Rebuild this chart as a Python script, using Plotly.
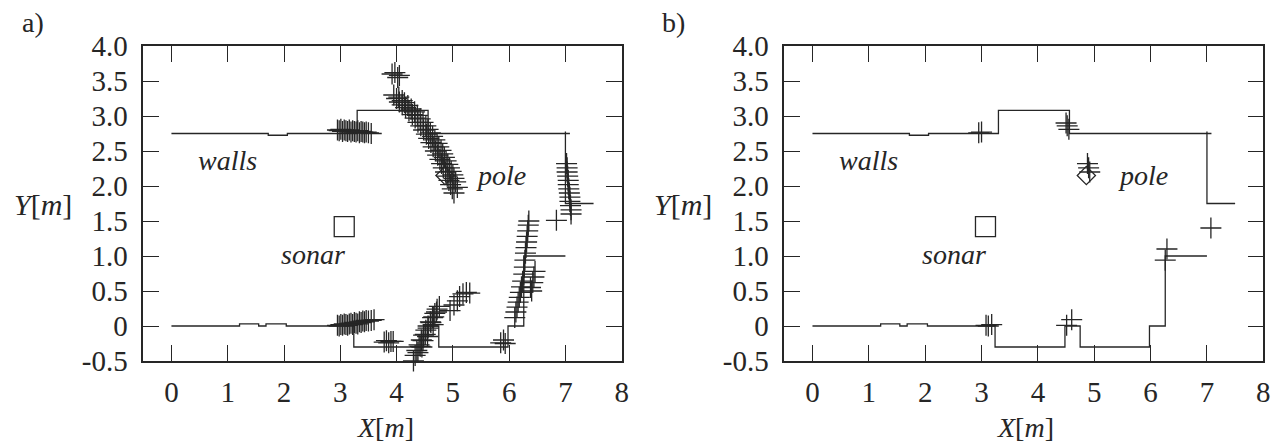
import plotly.graph_objects as go

# ---- walls (same map in both panels) ----
wall_x = [0, 1.72, 1.72, 2.06, 2.06, 3.30, 3.30, 4.56, 4.56, 7.08, None,
          7.0, 7.0, 7.5, None,
          0, 1.21, 1.21, 1.55, 1.55, 1.68, 1.68, 2.04, 2.04, 3.24, 3.24, 4.48, 4.48,
          4.75, 4.75, 5.98, 5.98, 6.26, 6.26, 7.0]
wall_y = [2.75, 2.75, 2.725, 2.725, 2.75, 2.75, 3.08, 3.08, 2.75, 2.75, None,
          2.78, 1.75, 1.75, None,
          0, 0, 0.03, 0.03, 0, 0, 0.03, 0.03, 0, 0, -0.30, -0.30, 0,
          0, -0.30, -0.30, 0, 0, 1.0, 1.0]

sonar_x = [3.07]
sonar_y = [1.42]
pole_x = [4.86]
pole_y = [2.15]

# ---- a) raw sonar measurements ----
a_x = [2.95, 2.98, 3.01, 3.04, 3.07, 3.10, 3.13, 3.16, 3.19, 3.22, 3.25, 3.28, 3.31, 3.34, 3.37, 3.40, 3.43, 3.46, 3.50, 3.55,
       2.95, 2.98, 3.01, 3.04, 3.07, 3.10, 3.13, 3.16, 3.19, 3.22, 3.25, 3.28, 3.31, 3.34, 3.37, 3.40, 3.43, 3.46, 3.50, 3.55, 3.60,
       3.78, 3.82, 3.86, 3.90, 3.94,
       3.92, 3.97, 4.02, 4.05,
       3.95, 4.00, 4.05, 4.10, 4.16, 4.22, 4.28, 4.33, 4.38, 4.43, 4.48, 4.53, 4.57, 4.61, 4.65, 4.69, 4.73, 4.77, 4.80, 4.83, 4.87, 4.90, 4.93, 4.96, 4.99, 5.02,
       4.10, 4.20, 4.32, 4.42, 4.52, 4.60, 4.68, 4.75, 4.82, 4.88, 4.94, 5.00, 5.05, 5.08,
       4.04, 4.14, 4.26, 4.37, 4.47, 4.56, 4.64, 4.72, 4.79, 4.85, 4.91, 4.97, 5.02,
       4.30, 4.33, 4.36, 4.40, 4.44, 4.48, 4.52, 4.56, 4.60, 4.64, 4.68, 4.72, 4.76, 4.45, 4.55, 4.65,
       4.38, 4.42, 4.47, 4.51, 4.56, 4.61, 4.66, 4.71,
       4.95, 5.02, 5.08, 5.12, 5.18, 5.24, 5.30,
       5.85, 5.90, 5.93,
       6.10, 6.12, 6.14, 6.16, 6.18, 6.20, 6.22, 6.24, 6.26, 6.27, 6.28, 6.29, 6.30, 6.31, 6.32, 6.33, 6.34, 6.35,
       6.38, 6.42, 6.44, 6.46, 6.40,
       7.02, 7.03, 7.03, 7.04, 7.05, 7.05, 7.06, 7.07, 7.08, 7.08, 7.09, 7.10, 7.10,
       6.84]
a_y = [2.80, 2.79, 2.81, 2.78, 2.80, 2.79, 2.78, 2.80, 2.77, 2.79, 2.78, 2.77, 2.79, 2.76, 2.78, 2.77, 2.76, 2.77, 2.76, 2.75,
       0.01, 0.00, 0.02, 0.01, 0.03, 0.02, 0.01, 0.03, 0.04, 0.02, 0.05, 0.04, 0.03, 0.06, 0.05, 0.07, 0.06, 0.08, 0.07, 0.08, 0.09,
       -0.23, -0.21, -0.24, -0.22, -0.22,
       3.60, 3.62, 3.55, 3.58,
       3.30, 3.25, 3.20, 3.16, 3.12, 3.07, 3.02, 2.97, 2.91, 2.86, 2.80, 2.74, 2.68, 2.62, 2.56, 2.50, 2.44, 2.38, 2.32, 2.26, 2.20, 2.14, 2.08, 2.02, 1.96, 1.90,
       3.22, 3.15, 3.06, 2.96, 2.86, 2.76, 2.66, 2.56, 2.46, 2.36, 2.26, 2.16, 2.06, 1.98,
       3.27, 3.19, 3.10, 3.01, 2.91, 2.81, 2.71, 2.61, 2.51, 2.41, 2.31, 2.21, 2.11,
       -0.50, -0.42, -0.35, -0.27, -0.20, -0.13, -0.06, 0.00, 0.06, 0.12, 0.18, 0.24, 0.28, -0.30, -0.15, 0.02,
       -0.38, -0.29, -0.21, -0.12, -0.03, 0.05, 0.13, 0.20,
       0.22, 0.30, 0.36, 0.42, 0.46, 0.48, 0.47,
       -0.24, -0.20, -0.25,
       0.12, 0.20, 0.27, 0.34, 0.41, 0.48, 0.56, 0.64, 0.74, 0.84, 0.94, 1.04, 1.12, 1.20, 1.28, 1.36, 1.44, 1.50,
       0.55, 0.62, 0.70, 0.78, 0.50,
       2.32, 2.26, 2.20, 2.14, 2.08, 2.02, 1.96, 1.90, 1.84, 1.78, 1.72, 1.66, 1.60,
       1.51]

# ---- b) filtered measurements ----
b_x = [2.95, 3.00, 4.50, 4.52, 4.55, 4.88, 4.90, 4.92, 3.08, 3.12, 3.18, 4.51, 4.60, 6.29, 6.26, 7.07]
b_y = [2.76, 2.77, 2.90, 2.86, 2.81, 2.32, 2.26, 2.20, 0.01, 0.00, 0.02, 0.01, 0.09, 1.10, 0.94, 1.40]

x_ticks = [0, 1, 2, 3, 4, 5, 6, 7, 8]
y_ticks = [-0.5, 0, 0.5, 1, 1.5, 2, 2.5, 3, 3.5, 4]
y_ticktext = ["-0.5", "0", "0.5", "1.0", "1.5", "2.0", "2.5", "3.0", "3.5", "4.0"]

INK = "#262626"
SERIF = "Liberation Serif"

fig = go.Figure()
panels = [("x", "y", a_x, a_y), ("x2", "y2", b_x, b_y)]
for xa, ya, cx, cy in panels:
    fig.add_trace(go.Scatter(x=wall_x, y=wall_y, mode="lines", xaxis=xa, yaxis=ya,
                             line=dict(color=INK, width=1.3), hoverinfo="skip", showlegend=False))
    fig.add_trace(go.Scatter(x=cx, y=cy, mode="markers", xaxis=xa, yaxis=ya, cliponaxis=False,
                             marker=dict(symbol="cross-thin", size=15, line=dict(color=INK, width=1.3)),
                             showlegend=False))
    fig.add_trace(go.Scatter(x=sonar_x, y=sonar_y, mode="markers", xaxis=xa, yaxis=ya,
                             marker=dict(symbol="square-open", size=20, color=INK, line=dict(width=1.3)),
                             showlegend=False))
    fig.add_trace(go.Scatter(x=pole_x, y=pole_y, mode="markers", xaxis=xa, yaxis=ya,
                             marker=dict(symbol="diamond-open", size=14, color=INK, line=dict(width=1.3)),
                             showlegend=False))

axis_common = dict(showgrid=False, zeroline=False, showline=True, linecolor=INK, linewidth=1.5,
                   mirror="allticks", ticks="inside", tickcolor=INK, tickwidth=1.3, ticklen=16,
                   automargin=False,
                   tickfont=dict(family=SERIF, size=29, color=INK))
xdomA = [143.3 / 1280, 621.7 / 1280]
xdomB = [784.3 / 1280, 1263.3 / 1280]
ydom = [(444 - 361) / 444, (444 - 46) / 444]
fig.update_layout(
    template="none",
    width=1280, height=444, margin=dict(l=0, r=0, t=0, b=0, autoexpand=False),
    paper_bgcolor="white", plot_bgcolor="white",
    xaxis=dict(domain=xdomA, range=[-0.5, 8], tickvals=x_ticks, anchor="y", ticklabelstandoff=4, **axis_common),
    yaxis=dict(domain=ydom, range=[-0.5, 4], tickvals=y_ticks, ticktext=y_ticktext, anchor="x", ticklabelstandoff=8, **axis_common),
    xaxis2=dict(domain=xdomB, range=[-0.5, 8], tickvals=x_ticks, anchor="y2", ticklabelstandoff=4, **axis_common),
    yaxis2=dict(domain=ydom, range=[-0.5, 4], tickvals=y_ticks, ticktext=y_ticktext, anchor="x2", ticklabelstandoff=8, **axis_common),
)


def paper_text(px, py, text, size, **kw):
    return dict(xref="paper", yref="paper", x=px / 1280, y=(444 - py) / 444, text=text, showarrow=False,
                xanchor="center", yanchor="middle", font=dict(family=SERIF, size=size, color=INK), **kw)


ann = []
for xr, yr, pl, off in [("x", "y", "a)", 0), ("x2", "y2", "b)", 640)]:
    ann.append(dict(xref=xr, yref=yr, x=1.0, y=2.37, text="<i>walls</i>", showarrow=False,
                    xanchor="center", yanchor="middle", font=dict(family=SERIF, size=28, color=INK)))
    ann.append(dict(xref=xr, yref=yr, x=5.38, y=2.15, text="<i>pole</i>", showarrow=False,
                    xanchor="left", yanchor="middle", font=dict(family=SERIF, size=28, color=INK)))
    ann.append(dict(xref=xr, yref=yr, x=2.51, y=1.02, text="<i>sonar</i>", showarrow=False,
                    xanchor="center", yanchor="middle", font=dict(family=SERIF, size=28, color=INK)))
    ann.append(paper_text(33 + off, 22, pl, 28))
    ann.append(paper_text(43 + off, 205, "<i>Y</i>[<i>m</i>]", 30))
    ann.append(paper_text(385 + off, 427, "<i>X</i>[<i>m</i>]", 28))
fig.update_layout(annotations=ann)

fig.write_html("out.html", config={"displayModeBar": False},
               post_script="document.body.style.margin='0px';")
